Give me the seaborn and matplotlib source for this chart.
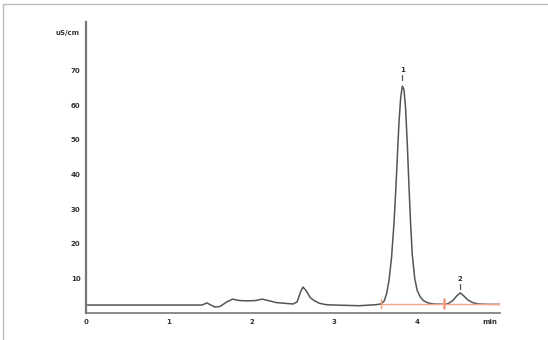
import numpy as np
import pandas as pd
import seaborn as sns
import matplotlib.pyplot as plt
from matplotlib.lines import Line2D

# chromatogram trace (time in min, conductivity in uS/cm)
times = [0.0, 1.40, 1.46, 1.50, 1.56, 1.62, 1.70, 1.77, 1.85, 1.95, 2.05, 2.13, 2.20,
         2.30, 2.40, 2.50, 2.55, 2.59, 2.62, 2.66, 2.71, 2.76, 2.82, 2.90, 3.00,
         3.30, 3.50, 3.56, 3.60, 3.63, 3.66, 3.69, 3.72, 3.74, 3.76, 3.78, 3.80,
         3.82, 3.84, 3.86, 3.88, 3.90, 3.92, 3.94, 3.97, 4.00, 4.04, 4.08, 4.13,
         4.20, 4.34, 4.38, 4.43, 4.48, 4.52, 4.56, 4.61, 4.67, 4.74, 4.85, 5.00]
signal = [2.3, 2.3, 2.9, 2.4, 1.7, 1.9, 3.2, 4.0, 3.6, 3.5, 3.6, 4.0, 3.6,
          3.0, 2.8, 2.6, 3.2, 6.0, 7.5, 6.4, 4.4, 3.5, 2.8, 2.4, 2.3,
          2.1, 2.4, 2.6, 3.4, 5.5, 9.5, 16.0, 26.0, 35.0, 45.0, 55.0, 62.0,
          65.5, 64.5, 59.0, 49.0, 37.0, 26.0, 17.0, 10.0, 6.5, 4.5, 3.5, 2.9,
          2.6, 2.5, 2.8, 3.6, 5.0, 5.8, 5.0, 3.8, 3.0, 2.6, 2.5, 2.5]

peak_ids = ["1", "2"]
peak_times = [3.82, 4.52]
peak_heights = [66.0, 5.8]

base_times = [3.56, 4.32, 5.0]
base_level = 2.6

yticks = [10, 20, 30, 40, 50, 60, 70]
xticks = [0, 1, 2, 3, 4]
xlabel = "min"
ylabel = "uS/cm"

trace = pd.DataFrame({"t": times, "v": signal})

sns.set_style("white")
plt.rcParams['font.family'] = ['DejaVu Sans']

fig = plt.figure(figsize=(5.48, 3.40), dpi=100)
ax = fig.add_axes([86 / 548, 27 / 340, 414 / 548, 291 / 340])

sns.lineplot(data=trace, x="t", y="v", ax=ax, color="#555555", linewidth=1.1)

# integration baseline
ax.plot([base_times[0], base_times[-1]], [base_level, base_level],
        color="#f4a58a", linewidth=1.0, zorder=3)
for bt in base_times:
    ax.plot([bt, bt], [base_level - 1.3, base_level + 1.3], color="#f29a7c",
            linewidth=1.0 if bt != base_times[1] else 1.8, zorder=3)

for pid, pt, ph in zip(peak_ids, peak_times, peak_heights):
    ax.text(pt, ph + 3.2, pid, ha="center", va="bottom", fontsize=5,
            fontweight="bold", color="#333333")
    ax.plot([pt, pt], [ph + 1.2, ph + 2.6], color="#555555", linewidth=0.9)

ax.set_xlim(0, 5.0)
ax.set_ylim(0, 84)
ax.set_xlabel("")
ax.set_ylabel("")
ax.set_yticks(yticks)
ax.set_yticklabels([str(v) for v in yticks])
ax.set_xticks(xticks + [4.88])
ax.set_xticklabels([str(v) for v in xticks] + [xlabel])
ax.tick_params(axis="both", labelsize=5, length=2.5, width=0.7,
               colors="#555555", labelcolor="#333333", pad=1.5)
for lab in ax.get_xticklabels() + ax.get_yticklabels():
    lab.set_fontweight("bold")
ax.xaxis.get_major_ticks()[-1].tick1line.set_visible(False)

sns.despine(ax=ax, top=True, right=True)
ax.spines["left"].set_color("#777777")
ax.spines["left"].set_linewidth(1.6)
ax.spines["bottom"].set_color("#777777")
ax.spines["bottom"].set_linewidth(1.2)

fig.text(80 / 548, 1 - 33 / 340, ylabel, ha="right", va="center", fontsize=5,
         fontweight="bold", color="#333333")

# light frame around the picture
fig.add_artist(Line2D([3 / 548, 1], [1 - 4 / 340, 1 - 4 / 340], color="#bbbbbb",
                      linewidth=1.0, transform=fig.transFigure))
fig.add_artist(Line2D([3 / 548, 3 / 548], [0, 1 - 4 / 340], color="#bbbbbb",
                      linewidth=1.0, transform=fig.transFigure))

fig.savefig("out.png", dpi=100)
